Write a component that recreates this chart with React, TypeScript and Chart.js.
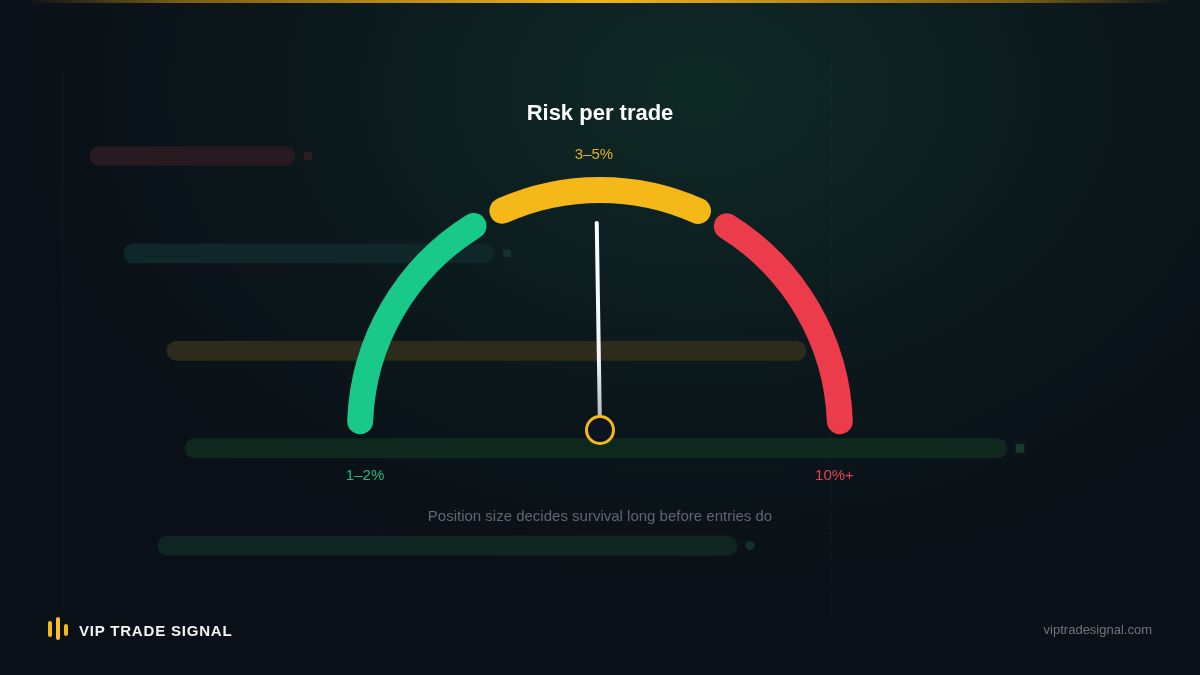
import React, { useEffect, useRef } from 'react';
import { Chart, registerables } from 'chart.js';

Chart.register(...registerables);

// ---- Gauge data (dial units; the dial spans the sum of spans + gaps) ----
const zoneLabels = ['1–2%', '3–5%', '10%+'];
const zoneSpans = [62.3, 54.3, 62.2];
const zoneGap = 1.6;
const needleValue = 90.1;

// ---- Decorative background bars ----
const bgRows = ['r1', 'r2', 'r3', 'r4', 'r5'];
const bgBarStarts = [9.0, 12.4, 16.7, 18.5, 15.8];
const bgBarEnds = [29.5, 49.4, 80.6, 100.7, 73.7];
const bgMarkers = [30.8, 50.7, null, 102.0, 75.0];

// ---- Texts ----
const titleText = 'Risk per trade';
const subtitleText = 'Position size decides survival long before entries do';
const brandText = 'VIP TRADE SIGNAL';
const siteText = 'viptradesignal.com';

const zoneColors = ['#19c98a', '#f4b918', '#ec3b4b'];
const zoneTextColors = ['#20b982', '#e2b021', '#e5424f'];
const bgBarColors = ['#271b21', '#0f2728', '#2d2c1c', '#10291f', '#0f2524'];
const bgMarkerColors = ['#2f1c23', '#133230', 'rgba(0,0,0,0)', '#15392c', '#16302d'];
const bgMarkerStyles = ['rect', 'rect', 'rect', 'rect', 'circle'];
const bgMarkerRadii = [6, 5.5, 0, 6.3, 4.6];

const FONT = '"Liberation Sans", Arial, Helvetica, sans-serif';

const gaugeExtras = {
  id: 'gaugeExtras',
  afterDatasetsDraw(chart: any) {
    const meta = chart.getDatasetMeta(0);
    const first = meta.data[0];
    const last = meta.data[meta.data.length - 1];
    if (!first) return;
    const cx = first.x;
    const cy = first.y;
    const ro = first.outerRadius;
    const ri = first.innerRadius;
    const rc = (ro + ri) / 2;
    const ctx = chart.ctx;
    const total = chart.data.datasets[0].data.reduce((a: number, b: number) => a + b, 0);
    const startA = first.startAngle;
    const endA = last.endAngle;
    const ang = startA + (needleValue / total) * (endA - startA);

    // needle
    const pivotR = 15;
    const len = ri - 20;
    const x0 = cx + Math.cos(ang) * pivotR;
    const y0 = cy + Math.sin(ang) * pivotR;
    const x1 = cx + Math.cos(ang) * len;
    const y1 = cy + Math.sin(ang) * len;
    ctx.save();
    const g = ctx.createLinearGradient(x0, y0, x1, y1);
    g.addColorStop(0, '#b4bec8');
    g.addColorStop(0.3, '#f2f4f6');
    g.addColorStop(1, '#ffffff');
    ctx.strokeStyle = g;
    ctx.lineWidth = 4;
    ctx.lineCap = 'round';
    ctx.beginPath();
    ctx.moveTo(x0, y0);
    ctx.lineTo(x1, y1);
    ctx.stroke();

    // pivot
    ctx.beginPath();
    ctx.arc(cx, cy, 13.5, 0, Math.PI * 2);
    ctx.fillStyle = '#0d1320';
    ctx.fill();
    ctx.lineWidth = 3;
    ctx.strokeStyle = '#f4b918';
    ctx.stroke();

    // zone labels
    ctx.font = `15px ${FONT}`;
    ctx.textAlign = 'center';
    ctx.textBaseline = 'middle';
    ctx.fillStyle = zoneTextColors[0];
    ctx.fillText(zoneLabels[0], cx + Math.cos(startA) * rc + 5, cy + 46);
    ctx.fillStyle = zoneTextColors[2];
    ctx.fillText(zoneLabels[2], cx + Math.cos(endA) * rc - 5.5, cy + 46);
    ctx.fillStyle = zoneTextColors[1];
    ctx.fillText(zoneLabels[1], cx - 6, cy - ro - 22);
    ctx.restore();
  },
};

function BackgroundBars() {
  const ref = useRef<HTMLCanvasElement | null>(null);
  useEffect(() => {
    if (!ref.current) return;
    const keep = (_: any, i: number) => bgMarkers[i] !== null;
    const chart = new Chart(ref.current, {
      type: 'bar',
      data: {
        labels: bgRows,
        datasets: [
          {
            type: 'scatter',
            data: bgRows.map((r, i) => ({ x: bgMarkers[i], y: r })).filter(keep) as any,
            pointStyle: bgMarkerStyles.filter(keep) as any,
            pointRadius: bgMarkerRadii.filter(keep),
            pointBackgroundColor: bgMarkerColors.filter(keep),
            pointBorderWidth: 0,
            order: 1,
          } as any,
          {
            type: 'bar',
            data: bgRows.map((_, i) => [bgBarStarts[i], bgBarEnds[i]]) as any,
            backgroundColor: bgBarColors,
            borderRadius: 10,
            borderSkipped: false,
            barThickness: 19,
            order: 2,
          } as any,
        ],
      },
      options: {
        indexAxis: 'y',
        animation: false,
        responsive: true,
        maintainAspectRatio: false,
        events: [],
        layout: { autoPadding: false, padding: { top: 107.3, bottom: 80.7, left: 0, right: 0 } },
        scales: {
          x: { type: 'linear', min: 0, max: 120, display: false },
          y: { type: 'category', display: false, offset: true },
        },
        plugins: { legend: { display: false }, tooltip: { enabled: false } },
      } as any,
    });
    return () => chart.destroy();
  }, []);
  return (
    <div style={{ position: 'absolute', left: 0, top: 0, width: 1200, height: 675 }}>
      <canvas ref={ref} />
    </div>
  );
}

function Gauge() {
  const ref = useRef<HTMLCanvasElement | null>(null);
  useEffect(() => {
    if (!ref.current) return;
    const values: number[] = [];
    const colors: string[] = [];
    const labels: string[] = [];
    zoneSpans.forEach((s, i) => {
      if (i > 0) {
        values.push(zoneGap);
        colors.push('rgba(0,0,0,0)');
        labels.push('');
      }
      values.push(s);
      colors.push(zoneColors[i]);
      labels.push(zoneLabels[i]);
    });
    const dial = values.reduce((a, b) => a + b, 0);
    const chart = new Chart(ref.current, {
      type: 'doughnut',
      data: {
        labels,
        datasets: [
          {
            data: values,
            backgroundColor: colors,
            borderWidth: 0,
            borderRadius: 13,
          },
        ],
      },
      options: {
        animation: false,
        responsive: true,
        maintainAspectRatio: false,
        events: [],
        rotation: -dial / 2,
        circumference: dial,
        radius: 253,
        cutout: `${(227 / 253) * 100}%`,
        layout: { padding: { top: 0, bottom: 63.6, left: 0, right: 0 } },
        plugins: { legend: { display: false }, tooltip: { enabled: false } },
      } as any,
      plugins: [gaugeExtras],
    });
    return () => chart.destroy();
  }, []);
  return (
    <div style={{ position: 'absolute', left: 0, top: 0, width: 1200, height: 675 }}>
      <canvas ref={ref} />
    </div>
  );
}

function Text({ children, cx, cy, size, color, weight = 400, align = 'center', spacing = 0 }: any) {
  const lh = Math.round(size * 1.4);
  const style: any = {
    position: 'absolute',
    top: cy - lh / 2,
    height: lh,
    lineHeight: `${lh}px`,
    fontFamily: FONT,
    fontSize: size,
    fontWeight: weight,
    color,
    whiteSpace: 'nowrap',
    letterSpacing: spacing,
  };
  if (align === 'center') {
    style.left = cx - 400;
    style.width = 800;
    style.textAlign = 'center';
  } else if (align === 'left') {
    style.left = cx;
  } else {
    style.right = 1200 - cx;
  }
  return <div style={style}>{children}</div>;
}

export default function App() {
  return (
    <div
      style={{
        position: 'fixed',
        left: 0,
        top: 0,
        width: 1200,
        height: 675,
        overflow: 'hidden',
        background:
          'radial-gradient(ellipse 720px 520px at 700px 90px, #0f2a25 0%, #0d2021 30%, #0b161b 62%, #0a1017 100%)',
        backgroundColor: '#0a0f16',
      }}
    >
      <div
        style={{
          position: 'absolute',
          left: 0,
          top: 0,
          width: 1200,
          height: 3,
          background:
            'linear-gradient(90deg, rgba(245,179,22,0) 2%, rgba(150,110,20,0.8) 15%, #f2b41a 50%, rgba(150,110,20,0.8) 85%, rgba(245,179,22,0) 98%)',
        }}
      />
      <div style={{ position: 'absolute', left: 62, top: 70, width: 1, height: 540, background: 'rgba(255,255,255,0.025)' }} />
      <div
        style={{
          position: 'absolute',
          left: 831,
          top: 60,
          width: 0,
          height: 560,
          borderLeft: '1px dashed rgba(255,255,255,0.04)',
        }}
      />
      <BackgroundBars />
      <Gauge />
      <Text cx={600} cy={112} size={22} weight={700} color="#ffffff">
        {titleText}
      </Text>
      <Text cx={600} cy={515} size={15} color="#5d6772">
        {subtitleText}
      </Text>
      <div style={{ position: 'absolute', left: 48, top: 621, width: 4, height: 16, borderRadius: 2, background: '#f4b918' }} />
      <div style={{ position: 'absolute', left: 55.5, top: 617, width: 4, height: 23, borderRadius: 2, background: '#f6bf2a' }} />
      <div style={{ position: 'absolute', left: 63.5, top: 623.5, width: 4, height: 12, borderRadius: 2, background: '#f4b918' }} />
      <Text cx={79} cy={630} size={15} weight={700} color="#f1f3f5" align="left" spacing={0.8}>
        {brandText}
      </Text>
      <Text cx={1152} cy={630} size={13} color="#6b7580" align="right">
        {siteText}
      </Text>
    </div>
  );
}
